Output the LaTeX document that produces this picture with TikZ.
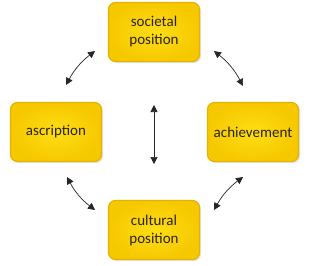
\documentclass[tikz,border=0pt]{standalone}
\usepackage{fontspec}
\setmainfont{Carlito}
\usetikzlibrary{arrows.meta,shadows}
\definecolor{boxin}{RGB}{255,222,20}
\definecolor{boxout}{RGB}{246,200,0}
\definecolor{boxedge}{RGB}{228,178,0}
\definecolor{txt}{RGB}{40,36,20}
\tikzset{
  card/.style={draw=boxedge, line width=1.2pt, rounded corners=7pt,
    inner color=boxin, outer color=boxout,
    minimum width=91pt, minimum height=59pt, align=center,
    font=\fontsize{15pt}{18pt}\selectfont, text=txt,
    drop shadow={shadow xshift=1.5pt, shadow yshift=-1.5pt, opacity=0.22}},
  link/.style={{Triangle[length=7pt,width=7pt]}-{Triangle[length=7pt,width=7pt]}, line width=0.7pt, black!85}
}
\begin{document}
\begin{tikzpicture}[x=1pt,y=-1pt]
\useasboundingbox (0,0) rectangle (310,265);
\fill[white] (0,0) rectangle (310,265);
\node[card] (top) at (154,32) {societal\\position};
\node[card] (left) at (56,132) {ascription};
\node[card] (right) at (253,132) {achievement};
\node[card] (bot) at (154,230) {cultural\\position};
\coordinate (tl1) at (66,85);
\coordinate (tl2) at (95,51);
\coordinate (tr1) at (214,51);
\coordinate (tr2) at (243,86);
\coordinate (bl1) at (67,177);
\coordinate (bl2) at (95,210);
\coordinate (br1) at (243,177);
\coordinate (br2) at (214,210);
\coordinate (c1) at (154,105);
\coordinate (c2) at (154,164);
\draw[link] (tl1) to[bend left=12] (tl2);
\draw[link] (tr1) to[bend left=12] (tr2);
\draw[link] (bl1) to[bend right=12] (bl2);
\draw[link] (br1) to[bend right=12] (br2);
\draw[link] (c1) -- (c2);
\end{tikzpicture}
\end{document}
